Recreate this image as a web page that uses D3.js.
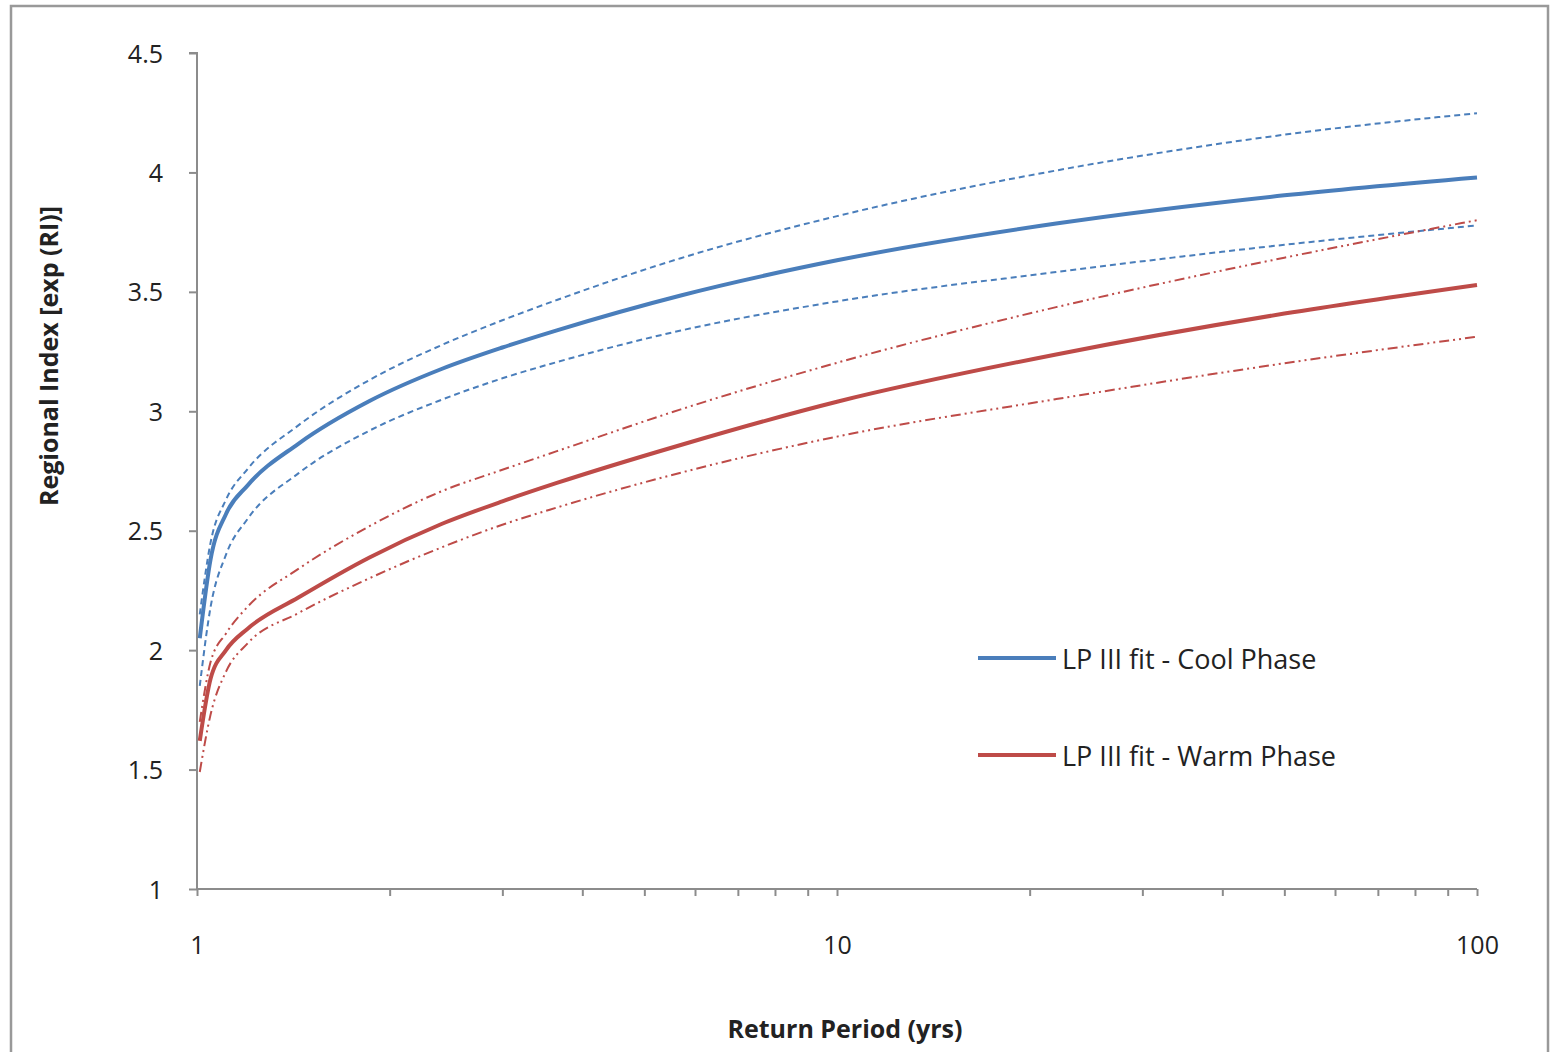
<!DOCTYPE html>
<html><head><meta charset="utf-8">
<script src="https://cdn.jsdelivr.net/npm/d3@7"></script>
<style>body{margin:0;background:#fff}svg{display:block}text{font-family:"Open Sans",sans-serif;fill:#222}</style>
</head><body><svg id="c" width="1552" height="1052"></svg>
<script>
const returnPeriods = [1.01, 1.05, 1.11, 1.2, 1.44, 1.86, 2.41, 3, 3.65, 5.7, 10, 22, 50, 100];
const coolFit   = [2.05, 2.38, 2.57, 2.69, 2.864, 3.043, 3.177, 3.267, 3.339, 3.485, 3.632, 3.786, 3.904, 3.979];
const coolUpper = [2.15, 2.45, 2.63, 2.759, 2.941, 3.131, 3.277, 3.381, 3.466, 3.641, 3.817, 4.008, 4.158, 4.248];
const coolLower = [1.85, 2.18, 2.40, 2.55, 2.74, 2.919, 3.048, 3.138, 3.206, 3.338, 3.460, 3.583, 3.697, 3.778];
const warmFit   = [1.62, 1.88, 2.00, 2.09, 2.22, 2.388, 2.528, 2.623, 2.70, 2.859, 3.04, 3.238, 3.409, 3.529];
const warmUpper = [1.70, 1.95, 2.07, 2.182, 2.34, 2.519, 2.665, 2.755, 2.833, 3.008, 3.203, 3.436, 3.643, 3.80];
const warmLower = [1.49, 1.73, 1.91, 2.029, 2.155, 2.301, 2.43, 2.525, 2.597, 2.743, 2.894, 3.051, 3.201, 3.312];
const yTicks = [1, 1.5, 2, 2.5, 3, 3.5, 4, 4.5];
const xTickLabels = [1, 10, 100];
const legendLabels = ["LP III fit - Cool Phase", "LP III fit - Warm Phase"];

const svg = d3.select("#c");
const x = d3.scaleLog().domain([1, 100]).range([197, 1477]);
const y = d3.scaleLinear().domain([1, 4.5]).range([889, 53]);
const axisColor = "#8c8c8c";

svg.append("rect").attr("x", 11).attr("y", 6).attr("width", 1537).attr("height", 1070)
  .attr("fill", "none").attr("stroke", "#999").attr("stroke-width", 2.5);

// Y axis
const yAxis = svg.append("g").attr("transform", "translate(197,0)")
  .call(d3.axisLeft(y).tickValues(yTicks).tickSize(8).tickPadding(26).tickFormat(d => String(d)));
yAxis.select(".domain").attr("stroke", axisColor).attr("stroke-width", 2).attr("d", `M-8,${y(4.5)}H0V${y(1)}`);
yAxis.selectAll(".tick line").attr("stroke", axisColor).attr("stroke-width", 2);
yAxis.selectAll(".tick text").style("font-size", "25px").attr("fill", "#222").attr("dy", "0.36em");

// X axis
const minor = [];
for (let d = 1; d < 100; d *= 10) for (let k = 1; k < 10; k++) minor.push(d * k);
minor.push(100);
const xAxis = svg.append("g").attr("transform", "translate(0,889)")
  .call(d3.axisBottom(x).tickValues(minor).tickSize(7).tickPadding(40)
    .tickFormat(d => xTickLabels.includes(d) ? String(d) : ""));
xAxis.select(".domain").attr("stroke", axisColor).attr("stroke-width", 2).attr("d", `M${x(1)},0H${x(100)}`);
xAxis.selectAll(".tick line").attr("stroke", axisColor).attr("stroke-width", 2);
xAxis.selectAll(".tick text").style("font-size", "25px").attr("fill", "#222");

// Titles
svg.append("text").attr("transform", "translate(58,356) rotate(-90)").attr("text-anchor", "middle")
  .style("font-size", "25px").style("font-weight", "bold").text("Regional Index [exp (RI)]");
svg.append("text").attr("x", 845).attr("y", 1038).attr("text-anchor", "middle")
  .style("font-size", "25px").style("font-weight", "bold").text("Return Period (yrs)");

const line = d3.line().x(d => x(d[0])).y(d => y(d[1])).curve(d3.curveMonotoneX);
const mk = vals => returnPeriods.map((t, i) => [t, vals[i]]);
const blue = "#4a7ebb", red = "#be4b48";
const series = [
  {v: coolUpper, c: blue, w: 2, dash: "6,4"},
  {v: coolLower, c: blue, w: 2, dash: "6,4"},
  {v: warmUpper, c: red, w: 2, dash: "10,4,2,4,2,4"},
  {v: warmLower, c: red, w: 2, dash: "10,4,2,4,2,4"},
  {v: coolFit, c: blue, w: 4, dash: null},
  {v: warmFit, c: red, w: 4, dash: null}
];
series.forEach(s => {
  svg.append("path").attr("d", line(mk(s.v))).attr("fill", "none")
    .attr("stroke", s.c).attr("stroke-width", s.w).attr("stroke-dasharray", s.dash);
});

// Legend
const leg = [{c: blue, yy: 658}, {c: red, yy: 755}];
leg.forEach((l, i) => {
  svg.append("line").attr("x1", 978).attr("x2", 1056).attr("y1", l.yy).attr("y2", l.yy)
    .attr("stroke", l.c).attr("stroke-width", 4);
  svg.append("text").attr("x", 1062).attr("y", l.yy + 11).style("font-size", "27px").text(legendLabels[i]);
});
</script></body></html>
